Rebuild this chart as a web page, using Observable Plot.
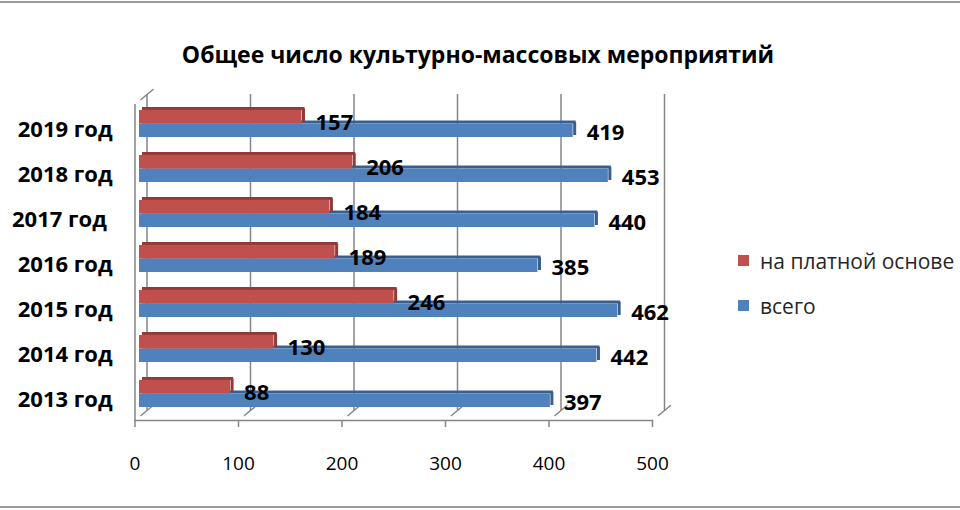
<!DOCTYPE html>
<html><head><meta charset="utf-8">
<script src="https://cdn.jsdelivr.net/npm/d3@7"></script>
<script src="https://cdn.jsdelivr.net/npm/@observablehq/plot@0.6"></script>
<style>
body{margin:0;background:#fff;}
#wrap{position:relative;width:960px;height:510px;overflow:hidden;font-family:"Open Sans",sans-serif;}
#title{position:absolute;left:0;width:956px;top:38px;text-align:center;font-weight:bold;font-size:23px;line-height:32px;color:#000;white-space:nowrap;}
.hl{position:absolute;left:0;width:960px;height:2px;background:#9a9a9a;}
#legend{position:absolute;left:738px;top:0;}
.lg{position:absolute;white-space:nowrap;font-size:21px;color:#262626;}
.sw{position:absolute;width:11px;height:11px;}
#chart{position:absolute;left:0;top:0;}
</style></head>
<body>
<div id="wrap">
  <div class="hl" style="top:1px"></div>
  <div class="hl" style="top:506px"></div>
  <div id="chart"></div>
  <div id="title"></div>
  <div id="legend"></div>
</div>
<script>
const titleText = "Общее число культурно-массовых мероприятий";
const years = ["2019 год", "2018 год", "2017 год\u00a0", "2016 год", "2015 год", "2014 год", "2013 год"];
const paid  = [157, 206, 184, 189, 246, 130, 88];
const total = [419, 453, 440, 385, 462, 442, 397];
const seriesNames  = ["на платной основе", "всего"];
const seriesColors = ["#c0504d", "#4f81bd"];
const seriesDark   = ["#923a37", "#385f8f"];
const xTicks = [0, 100, 200, 300, 400, 500];

const rows = years.map((y, i) => ({year: y, paid: paid[i], total: total[i]}));

const mTop = 100, mBottom = 94, H = 510;
const pi = 0.405, po = 0.18;
const step = (H - mTop - mBottom) / (years.length - pi + 2 * po);
const bw = step * (1 - pi);
const half = bw / 2;
const grid = "#868686";
const backDx = 7.5, backDy = -6, frontDx = -4.5, frontDy = 4;
const diagLen = Math.hypot(backDx - frontDx, frontDy - backDy);
const diagRot = 180 + Math.atan2(backDx - frontDx, frontDy - backDy) * 180 / Math.PI;
const lineShape = {draw(ctx, l) { ctx.moveTo(0, 0); ctx.lineTo(0, -l); }};

const chart = Plot.plot({
  width: 960, height: H,
  marginLeft: 139, marginRight: 303.5, marginTop: mTop, marginBottom: mBottom,
  style: {fontFamily: "'Open Sans', sans-serif", background: "transparent", overflow: "visible"},
  x: {domain: [0, 500], axis: null},
  y: {domain: years, padding: pi, paddingOuter: po, axis: null},
  marks: [
    Plot.ruleX(xTicks, {x: d => d, dx: backDx, dy: backDy, stroke: grid, strokeWidth: 1.5}),
    Plot.ruleX([0], {x: d => d, dx: frontDx, dy: frontDy, stroke: grid, strokeWidth: 1.5}),
    Plot.vector([0], {x: d => d, frameAnchor: "top", dx: backDx, dy: backDy, length: diagLen, rotate: diagRot, shape: lineShape, stroke: grid, strokeWidth: 1.5}),
    Plot.vector(xTicks, {x: d => d, frameAnchor: "bottom", dx: backDx, dy: backDy, length: diagLen, rotate: diagRot, shape: lineShape, stroke: grid, strokeWidth: 1.5}),
    Plot.frame({anchor: "bottom", dx: frontDx, dy: frontDy, stroke: grid, strokeWidth: 1.5}),
    Plot.axisX({ticks: xTicks, tickSize: 7, dx: frontDx, dy: frontDy, tickFormat: () => "", label: null, stroke: grid, strokeWidth: 1.5}),
    Plot.axisX({ticks: xTicks, tickSize: 0, tickPadding: 40, dx: frontDx, fontSize: 19, label: null, fill: "#000"}),
    Plot.axisY({tickSize: 0, tickPadding: 22.5, dx: frontDx, dy: 6, fontSize: 22, fontWeight: "bold", label: null, fill: "#000"}),
    Plot.barX(rows, {x: "total", y: "year", fill: seriesDark[1], insetTop: half - 3, insetBottom: half, dx: 3}),
    Plot.barX(rows, {x: "total", y: "year", fill: seriesColors[1], insetTop: half}),
    Plot.tickX(rows, {x: "total", y: "year", stroke: seriesDark[1], strokeWidth: 3, dx: 1.5, insetTop: half - 1.5, insetBottom: 2}),
    Plot.barX(rows, {x: "paid", y: "year", fill: seriesDark[0], insetTop: -3, insetBottom: bw, dx: 3}),
    Plot.barX(rows, {x: "paid", y: "year", fill: seriesColors[0], insetBottom: half}),
    Plot.tickX(rows, {x: "paid", y: "year", stroke: seriesDark[0], strokeWidth: 3, dx: 1.5, insetTop: -1.5, insetBottom: half + 2}),
    Plot.text(rows, {x: "paid", y: "year", text: d => String(d.paid), dx: 13.5, dy: -1.5, textAnchor: "start", fontSize: 22, fontWeight: "bold", fill: "#000"}),
    Plot.text(rows, {x: "total", y: "year", text: d => String(d.total), dx: 13.5, dy: 8.5, textAnchor: "start", fontSize: 22, fontWeight: "bold", fill: "#000"})
  ]
});
document.getElementById("chart").appendChild(chart);
document.getElementById("title").textContent = titleText;

const legend = document.getElementById("legend");
const legendTops = [255, 300];
seriesNames.forEach((name, i) => {
  const sw = document.createElement("div");
  sw.className = "sw";
  sw.style.left = "0px";
  sw.style.top = legendTops[i] + "px";
  sw.style.background = seriesColors[i];
  legend.appendChild(sw);
  const t = document.createElement("div");
  t.className = "lg";
  t.style.left = "22px";
  t.style.top = (legendTops[i] + 5.5 - 14) + "px";
  t.style.lineHeight = "28px";
  t.textContent = name;
  legend.appendChild(t);
});
</script>
</body></html>
